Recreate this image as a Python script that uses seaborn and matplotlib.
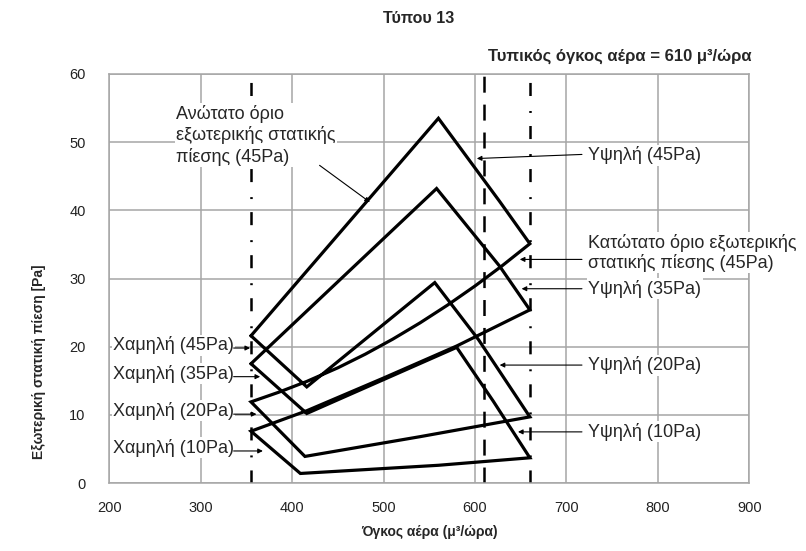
import seaborn as sns
import matplotlib.pyplot as plt

# --- Data ---
flow_ticks = [200, 300, 400, 500, 600, 700, 800, 900]
pressure_ticks = [0, 10, 20, 30, 40, 50, 60]

# closed outline through the 45Pa upper limit / 20Pa lower corners
loop_a_flow = [355, 560, 627, 660, 630, 600, 570, 540, 510, 480, 450, 416, 385, 355,
               414, 540, 660, 604, 556, 416]
loop_a_pressure = [21.6, 53.5, 41.3, 35.1, 31.9, 28.9, 26.1, 23.5, 21.1, 18.9, 16.9, 14.9, 13.3, 11.9,
                   3.9, 6.8, 9.7, 21.0, 29.4, 14.1]

# closed outline through the 35Pa / 10Pa corners
loop_b_flow = [355, 558, 627, 660, 580, 500, 416, 355, 409, 560, 660, 620, 580, 416]
loop_b_pressure = [17.5, 43.2, 31.8, 25.4, 20.1, 15.4, 10.6, 7.6, 1.4, 2.6, 3.7, 12.0, 19.9, 10.2]

limit_flows = [355, 660]   # dash-dot limits
rated_flow = 610           # dashed line, rated air volume

low_labels = ['Χαμηλή (45Pa)', 'Χαμηλή (35Pa)', 'Χαμηλή (20Pa)', 'Χαμηλή (10Pa)']
high_labels = ['Υψηλή (45Pa)', 'Κατώτατο όριο εξωτερικής\nστατικής πίεσης (45Pa)',
               'Υψηλή (35Pa)', 'Υψηλή (20Pa)', 'Υψηλή (10Pa)']
upper_label = 'Ανώτατο όριο\nεξωτερικής στατικής\nπίεσης (45Pa)'

# --- Annotation layout (data coordinates) ---
low_text_y = [20.2, 16.0, 10.6, 5.2]
low_arrow_y = [19.8, 15.6, 10.1, 4.7]
low_arrow_tip = [354, 365, 361, 368]
high_text_y = [48.1, 33.8, 28.5, 17.3, 7.5]
high_arrow = [((717, 48.2), (602, 47.6)), ((717, 32.8), (649, 32.8)),
              ((717, 28.5), (651, 28.5)), ((717, 17.3), (627, 17.3)),
              ((717, 7.5), (647, 7.5))]

# --- Plotting ---
sns.set_theme(style='whitegrid', rc={
    'grid.color': '#a6a6a6', 'grid.linewidth': 1.1,
    'axes.edgecolor': '#a6a6a6', 'axes.linewidth': 1.1,
    'lines.scale_dashes': False,
})
plt.rcParams['font.family'] = ['Liberation Sans', 'DejaVu Sans']

fig = plt.figure(figsize=(8.06, 5.51), dpi=100)
ax = fig.add_axes([0.1356, 0.1234, 0.794, 0.7423])

for flow, pressure in [(loop_a_flow, loop_a_pressure), (loop_b_flow, loop_b_pressure)]:
    sns.lineplot(x=flow + flow[:1], y=pressure + pressure[:1], sort=False, estimator=None,
                 color='black', linewidth=2.3, ax=ax, zorder=3)
for line in ax.lines:
    line.set_solid_joinstyle('miter')

for x in limit_flows:
    ax.axvline(x, color='black', linewidth=1.8, linestyle=(0, (9.4, 9.4, 1.4, 10.8)), zorder=2)
ax.axvline(rated_flow, color='black', linewidth=1.8, linestyle=(0, (11.5, 8.6)), zorder=2)

box = dict(facecolor='white', edgecolor='none', pad=1.0)
arrow = dict(arrowstyle='-|>', color='black', lw=0.8, mutation_scale=7, shrinkA=0, shrinkB=0)

for label, ty, ay, tip in zip(low_labels, low_text_y, low_arrow_y, low_arrow_tip):
    ax.text(204, ty, label, fontsize=13, ha='left', va='center', bbox=box, zorder=4)
    ax.annotate('', xy=(tip, ay), xytext=(336, ay), arrowprops=arrow, zorder=4)

for label, ty, (tail, tip) in zip(high_labels, high_text_y, high_arrow):
    ax.text(724, ty, label, fontsize=13, ha='left', va='center', multialignment='left',
            bbox=box, zorder=4, linespacing=1.15, clip_on=False)
    ax.annotate('', xy=tip, xytext=tail, arrowprops=arrow, zorder=4)

ax.text(273.5, 51.0, upper_label, fontsize=13, ha='left', va='center', multialignment='left',
        bbox=box, linespacing=1.25, zorder=4)
ax.annotate('', xy=(485, 41.2), xytext=(430, 46.6), arrowprops=arrow, zorder=4)

# --- Formatting ---
ax.set_xlim(200, 900)
ax.set_ylim(0, 60)
ax.set_xticks(flow_ticks)
ax.set_yticks(pressure_ticks)
ax.tick_params(axis='both', length=0, labelsize=10.5, colors='#222222')
ax.tick_params(axis='y', pad=17)
ax.tick_params(axis='x', pad=13)

ax.set_xlabel('Όγκος αέρα (μ³/ώρα)', fontsize=10, fontweight='bold', va='center')
ax.set_ylabel('Εξωτερική στατική πίεση [Pa]', fontsize=10, fontweight='bold', va='center')
ax.xaxis.set_label_coords(0.5, -0.12)
ax.yaxis.set_label_coords(-0.11, 0.296)

fig.text(0.52, 0.967, 'Τύπου 13', fontsize=11.5, fontweight='bold', ha='center', va='center')
fig.text(0.933, 0.898, 'Τυπικός όγκος αέρα = 610 μ³/ώρα', fontsize=12, fontweight='bold',
         ha='right', va='center')

fig.savefig('out.png', dpi=100)
